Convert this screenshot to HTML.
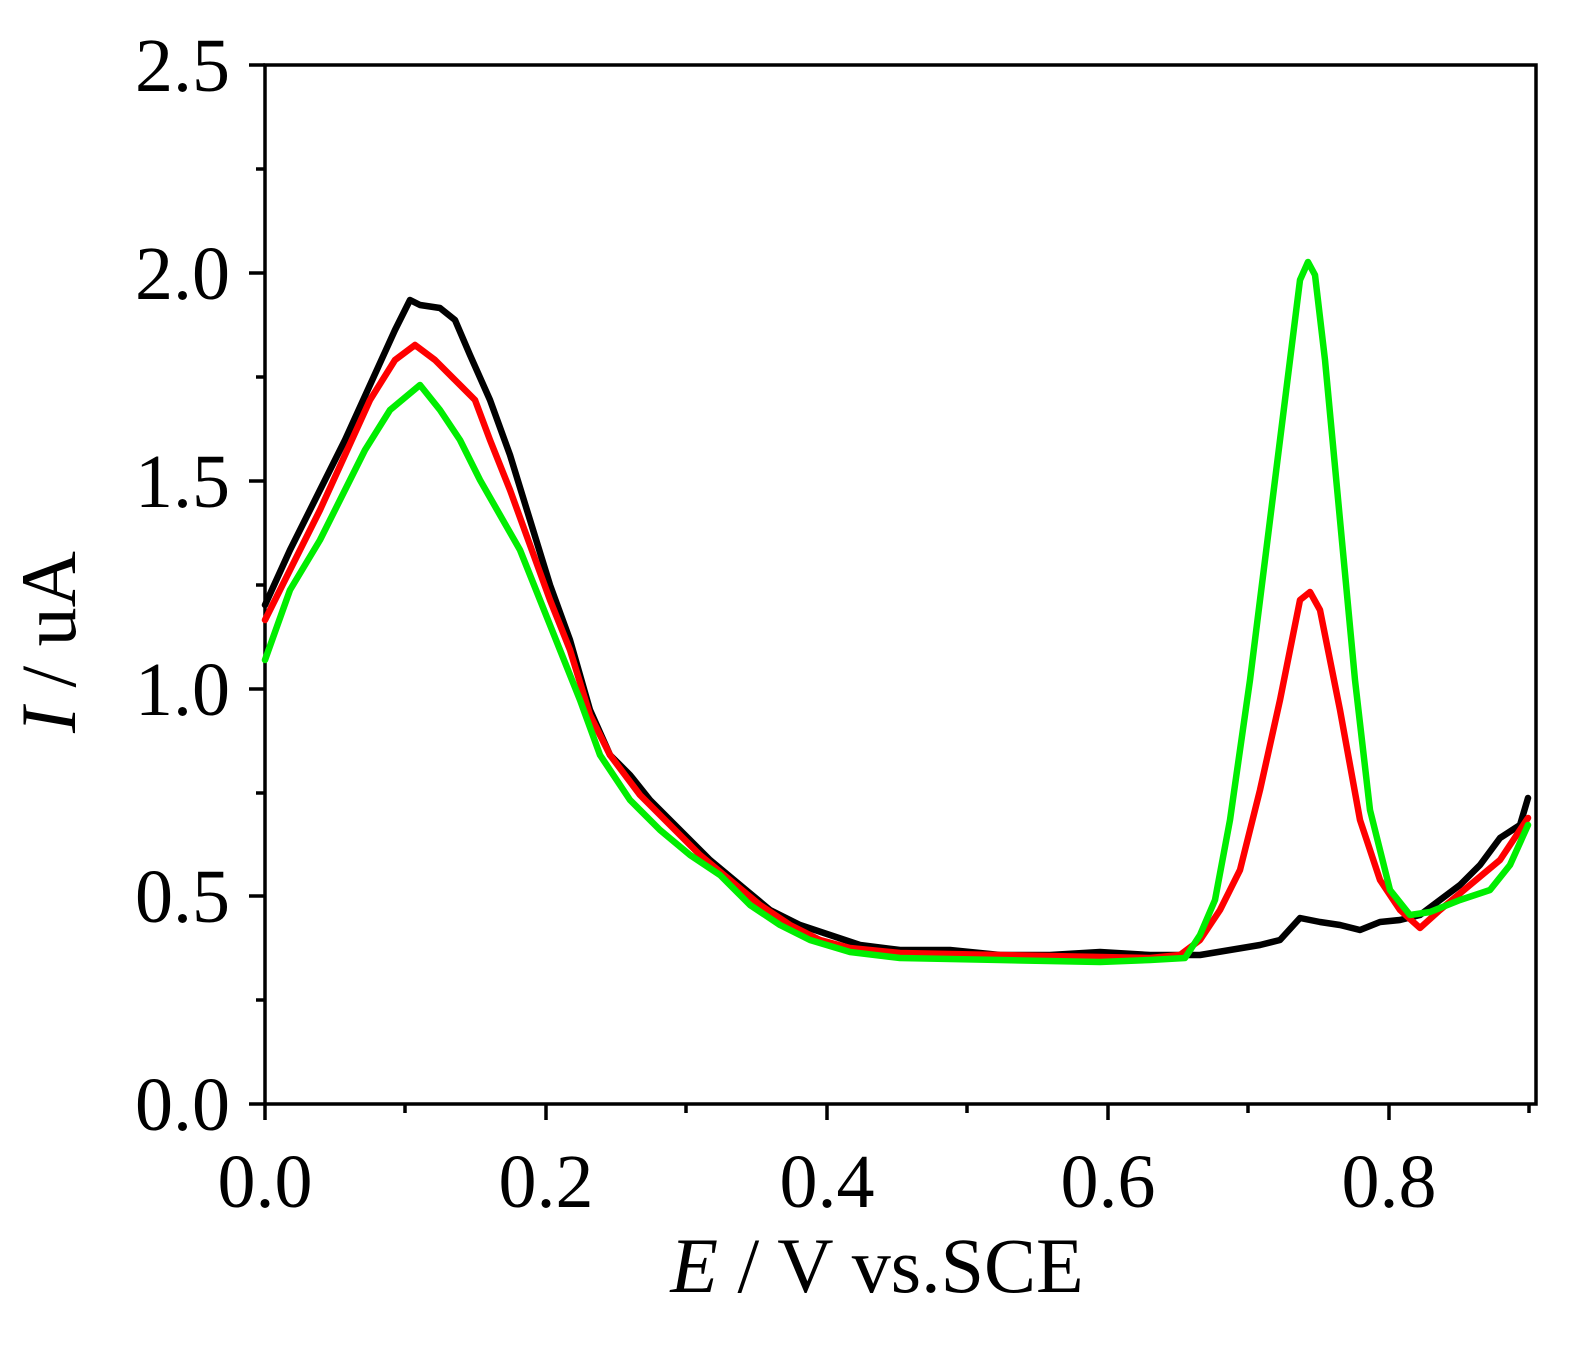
<!DOCTYPE html>
<html><head><meta charset="utf-8"><style>
html,body{margin:0;padding:0;background:#fff;}
svg{display:block}
text{font-family:"Liberation Serif",serif;fill:#000}
</style></head><body>
<svg width="1588" height="1349" viewBox="0 0 1588 1349" xmlns="http://www.w3.org/2000/svg">
<rect x="0" y="0" width="1588" height="1349" fill="#fff"/>
<g stroke="#000" stroke-width="3.5" fill="none">
<rect x="265" y="65" width="1271" height="1039"/>
<path d="M265 1104h-16M265 896h-16M265 689h-16M265 481h-16M265 273h-16M265 65h-16
M265 1000h-9M265 793h-9M265 585h-9M265 377h-9M265 169h-9"/>
<path d="M265 1104v16M546 1104v16M827 1104v16M1108 1104v16M1389 1104v16
M405 1104v9M686 1104v9M967 1104v9M1248 1104v9M1529 1104v9"/>
</g>
<g font-size="76" text-anchor="end">
<text x="230" y="1130">0.0</text>
<text x="230" y="922">0.5</text>
<text x="230" y="715">1.0</text>
<text x="230" y="507">1.5</text>
<text x="230" y="299">2.0</text>
<text x="230" y="91">2.5</text>
</g>
<g font-size="76" text-anchor="middle">
<text x="265" y="1207">0.0</text>
<text x="546" y="1207">0.2</text>
<text x="827" y="1207">0.4</text>
<text x="1108" y="1207">0.6</text>
<text x="1389" y="1207">0.8</text>
</g>
<text x="877" y="1292" font-size="78" text-anchor="middle"><tspan font-style="italic">E</tspan> / V vs.SCE</text>
<text transform="translate(75,642) rotate(-90)" font-size="78" text-anchor="middle"><tspan font-style="italic">I</tspan> / uA</text>
<g fill="none" stroke-width="6.5" stroke-linejoin="round" stroke-linecap="round">
<polyline stroke="#000" points="265,605 290,550 320,490 345,440 370,385 395,330 410,300 420,305 440,308 455,320 470,355 490,400 510,455 530,520 550,585 570,640 590,710 610,755 630,775 650,800 680,830 710,860 740,885 770,910 800,925 830,935 860,945 900,950 950,950 1000,955 1050,955 1100,952 1150,955 1200,955 1230,950 1260,945 1280,940 1300,918 1320,922 1340,925 1360,930 1380,922 1400,920 1420,915 1440,900 1460,885 1480,865 1500,838 1520,825 1528,798"/>
<polyline stroke="#ff0000" points="265,620 290,570 320,510 345,455 370,400 395,360 415,345 435,360 455,380 475,400 490,440 510,490 530,545 550,600 570,650 590,715 610,755 640,795 670,825 700,855 730,880 760,905 790,925 820,940 850,948 900,953 1000,955 1100,957 1150,958 1180,955 1200,940 1220,910 1240,870 1260,790 1280,700 1300,600 1310,592 1320,610 1340,710 1360,820 1380,880 1400,910 1420,928 1440,910 1470,885 1500,860 1528,818"/>
<polyline stroke="#00ee00" points="265,660 290,590 320,540 345,490 365,450 390,410 420,385 440,410 460,440 480,480 500,515 520,550 540,600 560,650 580,700 600,755 630,800 660,830 690,855 720,875 750,905 780,925 810,940 850,952 900,958 1000,960 1100,962 1150,960 1185,958 1200,935 1215,900 1230,820 1250,680 1270,520 1290,360 1300,280 1308,262 1315,275 1325,360 1340,520 1355,680 1370,810 1390,890 1410,915 1430,912 1460,900 1490,890 1510,865 1528,825"/>
</g>
</svg>
</body></html>
